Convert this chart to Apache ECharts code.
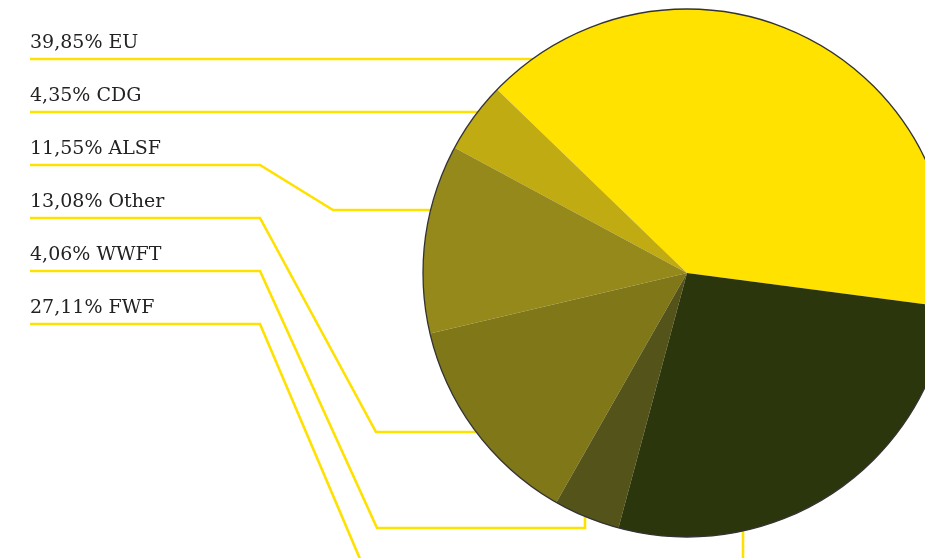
<!DOCTYPE html>
<html>
<head>
<meta charset="utf-8">
<script src="https://cdn.jsdelivr.net/npm/echarts@6/dist/echarts.min.js"></script>
<style>
html,body{margin:0;padding:0;background:#fff;}
#chart{width:925px;height:558px;}
</style>
</head>
<body>
<div id="chart"></div>
<script>
// ---- data ----
const categories = ['EU', 'CDG', 'ALSF', 'Other', 'WWFT', 'FWF'];
const shares = [39.85, 4.35, 11.55, 13.08, 4.06, 27.11];
const sliceColors = ['#FFE200', '#C1AB13', '#95891B', '#807818', '#54541A', '#2C360C'];

// ---- layout (pixels) ----
const CX = 687, CY = 273, R = 264;
const LABEL_X = 30, ROW0 = 59, ROW_STEP = 53, BEND_X = 260;
const leaderRoutes = [
  [{to: 'edgeH'}],
  [{to: 'edgeH'}],
  [{p: [BEND_X, 0]}, {p: [333, 210]}, {to: 'edgeH'}],
  [{p: [BEND_X, 0]}, {p: [376, 432]}, {to: 'edgeH'}],
  [{p: [BEND_X, 0]}, {p: [377, 528]}, {p: [585, 528]}, {to: 'edgeV'}],
  [{p: [BEND_X, 0]}, {p: [386, 620]}, {p: [743, 620]}, {to: 'edgeV'}]
];

function edgeXAt(y) { const dy = y - CY; return CX - Math.sqrt(Math.max(0, R * R - dy * dy)); }
function edgeYAt(x) { const dx = x - CX; return CY + Math.sqrt(Math.max(0, R * R - dx * dx)); }

function buildLeader(i) {
  const rowY = ROW0 + ROW_STEP * i;
  const pts = [[LABEL_X, rowY]];
  leaderRoutes[i].forEach(step => {
    const last = pts[pts.length - 1];
    if (step.p) {
      pts.push([step.p[0], step.p[1] === 0 ? rowY : step.p[1]]);
    } else if (step.to === 'edgeH') {
      pts.push([edgeXAt(last[1]), last[1]]);
    } else if (step.to === 'edgeV') {
      pts.push([last[0], edgeYAt(last[0])]);
    }
  });
  return pts;
}

const chart = echarts.init(document.getElementById('chart'), null, {renderer: 'canvas'});
const option = {
  backgroundColor: '#ffffff',
  animation: false,
  series: [
    {
      type: 'pie',
      center: [CX, CY],
      radius: [0, R],
      startAngle: -7.46,
      clockwise: false,
      avoidLabelOverlap: false,
      minShowLabelAngle: 0,
      data: categories.map((c, i) => ({
        name: c,
        value: shares[i],
        itemStyle: {color: sliceColors[i]}
      })),
      itemStyle: {borderWidth: 0},
      label: {
        show: true,
        position: 'outside',
        color: '#222222',
        fontFamily: 'DejaVu Serif',
        fontSize: 19,
        padding: 0,
        formatter: p => p.value.toFixed(2).replace('.', ',') + '% ' + p.name
      },
      labelLine: {
        show: true,
        length: 10,
        length2: 10,
        smooth: false,
        lineStyle: {color: '#FFE100', width: 2.6}
      },
      labelLayout: function (params) {
        const i = params.dataIndex;
        return {
          x: LABEL_X,
          y: ROW0 + ROW_STEP * i - 16,
          align: 'left',
          verticalAlign: 'middle',
          labelLinePoints: buildLeader(i)
        };
      },
      emphasis: {disabled: true},
      z: 2
    },
    {
      type: 'pie',
      center: [CX, CY],
      radius: [0, R],
      silent: true,
      label: {show: false},
      labelLine: {show: false},
      data: [{value: 1, itemStyle: {color: 'rgba(0,0,0,0)', borderColor: '#333333', borderWidth: 1.3}}],
      z: 3
    }
  ]
};
chart.setOption(option);
</script>
</body>
</html>
